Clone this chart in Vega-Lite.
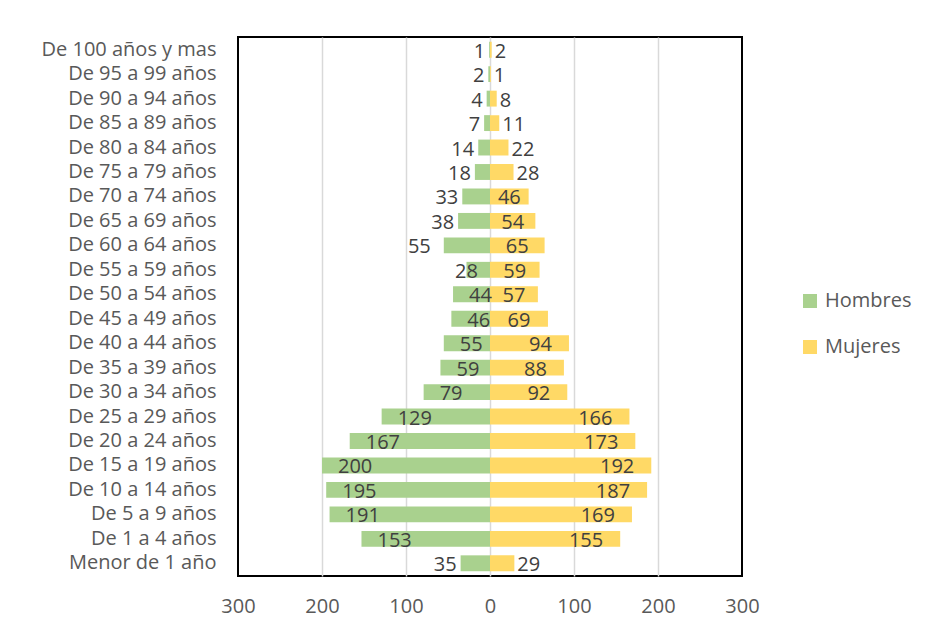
{
  "$schema": "https://vega.github.io/schema/vega-lite/v6.json",
  "width": 504,
  "height": 539,
  "autosize": {"type": "none"},
  "padding": {"left": 238, "top": 37, "right": 197, "bottom": 57},
  "background": "white",
  "config": {
    "font": "Open Sans",
    "view": {"stroke": "#000000", "strokeWidth": 2},
    "text": {"font": "Open Sans", "fontSize": 20, "color": "#404040", "baseline": "middle", "dy": 2}
  },
  "data": {
    "values": [
      {"edad": "De 100 años y mas", "sexo": "Hombres", "valor": 1},
      {"edad": "De 95 a 99 años", "sexo": "Hombres", "valor": 2},
      {"edad": "De 90 a 94 años", "sexo": "Hombres", "valor": 4},
      {"edad": "De 85 a 89 años", "sexo": "Hombres", "valor": 7},
      {"edad": "De 80 a 84 años", "sexo": "Hombres", "valor": 14},
      {"edad": "De 75 a 79 años", "sexo": "Hombres", "valor": 18},
      {"edad": "De 70 a 74 años", "sexo": "Hombres", "valor": 33},
      {"edad": "De 65 a 69 años", "sexo": "Hombres", "valor": 38},
      {"edad": "De 60 a 64 años", "sexo": "Hombres", "valor": 55},
      {"edad": "De 55 a 59 años", "sexo": "Hombres", "valor": 28},
      {"edad": "De 50 a 54 años", "sexo": "Hombres", "valor": 44},
      {"edad": "De 45 a 49 años", "sexo": "Hombres", "valor": 46},
      {"edad": "De 40 a 44 años", "sexo": "Hombres", "valor": 55},
      {"edad": "De 35 a 39 años", "sexo": "Hombres", "valor": 59},
      {"edad": "De 30 a 34 años", "sexo": "Hombres", "valor": 79},
      {"edad": "De 25 a 29 años", "sexo": "Hombres", "valor": 129},
      {"edad": "De 20 a 24 años", "sexo": "Hombres", "valor": 167},
      {"edad": "De 15 a 19 años", "sexo": "Hombres", "valor": 200},
      {"edad": "De 10 a 14 años", "sexo": "Hombres", "valor": 195},
      {"edad": "De 5 a 9 años", "sexo": "Hombres", "valor": 191},
      {"edad": "De 1 a 4 años", "sexo": "Hombres", "valor": 153},
      {"edad": "Menor de 1 año", "sexo": "Hombres", "valor": 35},
      {"edad": "De 100 años y mas", "sexo": "Mujeres", "valor": 2},
      {"edad": "De 95 a 99 años", "sexo": "Mujeres", "valor": 1},
      {"edad": "De 90 a 94 años", "sexo": "Mujeres", "valor": 8},
      {"edad": "De 85 a 89 años", "sexo": "Mujeres", "valor": 11},
      {"edad": "De 80 a 84 años", "sexo": "Mujeres", "valor": 22},
      {"edad": "De 75 a 79 años", "sexo": "Mujeres", "valor": 28},
      {"edad": "De 70 a 74 años", "sexo": "Mujeres", "valor": 46},
      {"edad": "De 65 a 69 años", "sexo": "Mujeres", "valor": 54},
      {"edad": "De 60 a 64 años", "sexo": "Mujeres", "valor": 65},
      {"edad": "De 55 a 59 años", "sexo": "Mujeres", "valor": 59},
      {"edad": "De 50 a 54 años", "sexo": "Mujeres", "valor": 57},
      {"edad": "De 45 a 49 años", "sexo": "Mujeres", "valor": 69},
      {"edad": "De 40 a 44 años", "sexo": "Mujeres", "valor": 94},
      {"edad": "De 35 a 39 años", "sexo": "Mujeres", "valor": 88},
      {"edad": "De 30 a 34 años", "sexo": "Mujeres", "valor": 92},
      {"edad": "De 25 a 29 años", "sexo": "Mujeres", "valor": 166},
      {"edad": "De 20 a 24 años", "sexo": "Mujeres", "valor": 173},
      {"edad": "De 15 a 19 años", "sexo": "Mujeres", "valor": 192},
      {"edad": "De 10 a 14 años", "sexo": "Mujeres", "valor": 187},
      {"edad": "De 5 a 9 años", "sexo": "Mujeres", "valor": 169},
      {"edad": "De 1 a 4 años", "sexo": "Mujeres", "valor": 155},
      {"edad": "Menor de 1 año", "sexo": "Mujeres", "valor": 29}
    ]
  },
  "encoding": {
    "y": {
      "field": "edad",
      "type": "nominal",
      "title": null,
      "scale": {
        "domain": ["De 100 años y mas", "De 95 a 99 años", "De 90 a 94 años", "De 85 a 89 años", "De 80 a 84 años", "De 75 a 79 años", "De 70 a 74 años", "De 65 a 69 años", "De 60 a 64 años", "De 55 a 59 años", "De 50 a 54 años", "De 45 a 49 años", "De 40 a 44 años", "De 35 a 39 años", "De 30 a 34 años", "De 25 a 29 años", "De 20 a 24 años", "De 15 a 19 años", "De 10 a 14 años", "De 5 a 9 años", "De 1 a 4 años", "Menor de 1 año"],
        "paddingInner": 0.35,
        "paddingOuter": 0.195
      },
      "axis": {
        "domain": false,
        "ticks": false,
        "tickSize": 0,
        "labelPadding": 22,
        "labelFontSize": 20,
        "labelColor": "#595959",
        "labelFont": "Open Sans",
        "grid": false
      }
    }
  },
  "layer": [
    {
      "transform": [{"filter": "datum.sexo == 'Hombres'"}],
      "mark": {"type": "bar"},
      "encoding": {
        "x": {"field": "valor", "type": "quantitative", "scale": {"domain": [-300, 300], "reverse": true}, "axis": null},
        "color": {
          "field": "sexo", "type": "nominal",
          "scale": {"domain": ["Hombres", "Mujeres"], "range": ["#A9D18E", "#FFD966"]},
          "legend": {
            "title": null, "orient": "none", "legendX": 562, "legendY": 254,
            "symbolType": "square", "symbolSize": 196, "symbolStrokeWidth": 0,
            "labelFontSize": 20, "labelColor": "#595959", "labelFont": "Open Sans",
            "labelOffset": 5, "rowPadding": 26
          }
        }
      }
    },
    {
      "transform": [{"filter": "datum.sexo == 'Mujeres'"}],
      "mark": {"type": "bar"},
      "encoding": {
        "x": {
          "field": "valor", "type": "quantitative", "title": null,
          "scale": {"domain": [-300, 300]},
          "axis": {
            "values": [-300, -200, -100, 0, 100, 200, 300],
            "labelExpr": "abs(datum.value)",
            "labelFlush": false,
            "domain": false, "ticks": false, "tickSize": 0,
            "labelPadding": 20, "labelFontSize": 20, "labelColor": "#595959", "labelFont": "Open Sans",
            "grid": true, "gridWidth": 1.5,
            "gridColor": {"condition": {"test": "abs(datum.value) == 300", "value": "transparent"}, "value": "#d9d9d9"}
          }
        },
        "color": {"field": "sexo", "type": "nominal"}
      }
    },
    {
      "transform": [{"filter": {"field": "edad", "oneOf": ["De 100 años y mas", "De 95 a 99 años", "De 90 a 94 años", "De 85 a 89 años", "De 80 a 84 años", "De 75 a 79 años", "De 70 a 74 años", "De 65 a 69 años", "Menor de 1 año"]}}, {"filter": "datum.sexo == 'Hombres'"}],
      "mark": {"type": "text", "align": "right", "dx": -4},
      "encoding": {
        "x": {"field": "valor", "type": "quantitative", "scale": {"domain": [-300, 300], "reverse": true}, "axis": null},
        "text": {"field": "valor", "type": "quantitative"}
      }
    },
    {
      "transform": [{"filter": "datum.sexo == 'Hombres' && datum.edad == 'De 60 a 64 años'"}],
      "mark": {"type": "text", "align": "right", "dx": -13},
      "encoding": {
        "x": {"field": "valor", "type": "quantitative", "scale": {"domain": [-300, 300], "reverse": true}, "axis": null},
        "text": {"field": "valor", "type": "quantitative"}
      }
    },
    {
      "transform": [{"filter": "datum.sexo == 'Hombres' && datum.edad == 'De 55 a 59 años'"}],
      "mark": {"type": "text", "align": "center", "dx": 0},
      "encoding": {
        "x": {"field": "valor", "type": "quantitative", "scale": {"domain": [-300, 300], "reverse": true}, "axis": null},
        "text": {"field": "valor", "type": "quantitative"}
      }
    },
    {
      "transform": [{"filter": {"field": "edad", "oneOf": ["De 50 a 54 años", "De 45 a 49 años", "De 40 a 44 años", "De 35 a 39 años", "De 30 a 34 años", "De 25 a 29 años", "De 20 a 24 años", "De 15 a 19 años", "De 10 a 14 años", "De 5 a 9 años", "De 1 a 4 años"]}}, {"filter": "datum.sexo == 'Hombres'"}],
      "mark": {"type": "text", "align": "left", "dx": 16},
      "encoding": {
        "x": {"field": "valor", "type": "quantitative", "scale": {"domain": [-300, 300], "reverse": true}, "axis": null},
        "text": {"field": "valor", "type": "quantitative"}
      }
    },
    {
      "transform": [{"filter": {"field": "edad", "oneOf": ["De 100 años y mas", "De 95 a 99 años", "De 90 a 94 años", "De 85 a 89 años", "De 80 a 84 años", "De 75 a 79 años", "Menor de 1 año"]}}, {"filter": "datum.sexo == 'Mujeres'"}],
      "mark": {"type": "text", "align": "left", "dx": 3},
      "encoding": {
        "x": {"field": "valor", "type": "quantitative", "scale": {"domain": [-300, 300]}, "axis": null},
        "text": {"field": "valor", "type": "quantitative"}
      }
    },
    {
      "transform": [{"filter": {"field": "edad", "oneOf": ["De 70 a 74 años", "De 65 a 69 años", "De 60 a 64 años", "De 55 a 59 años", "De 50 a 54 años", "De 45 a 49 años"]}}, {"filter": "datum.sexo == 'Mujeres'"}],
      "mark": {"type": "text", "align": "center", "dx": 0},
      "encoding": {
        "x": {"field": "valor", "type": "quantitative", "scale": {"domain": [-600, 600]}, "axis": null},
        "text": {"field": "valor", "type": "quantitative"}
      }
    },
    {
      "transform": [{"filter": {"field": "edad", "oneOf": ["De 40 a 44 años", "De 35 a 39 años", "De 30 a 34 años", "De 25 a 29 años", "De 20 a 24 años", "De 15 a 19 años", "De 10 a 14 años", "De 5 a 9 años", "De 1 a 4 años"]}}, {"filter": "datum.sexo == 'Mujeres'"}],
      "mark": {"type": "text", "align": "right", "dx": -17},
      "encoding": {
        "x": {"field": "valor", "type": "quantitative", "scale": {"domain": [-300, 300]}, "axis": null},
        "text": {"field": "valor", "type": "quantitative"}
      }
    }
  ],
  "resolve": {"scale": {"x": "independent"}}
}
